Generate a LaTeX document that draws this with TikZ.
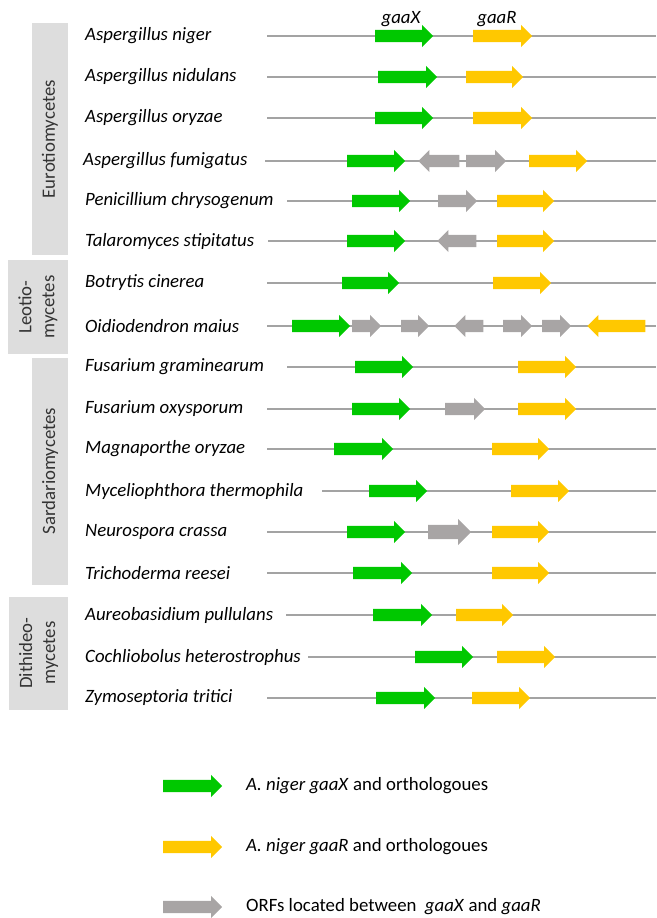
\documentclass[tikz,border=0pt]{standalone}
\usepackage{fontspec}
\setmainfont{Carlito}
\usetikzlibrary{shapes.arrows}

\definecolor{gaagreen}{HTML}{00C800}
\definecolor{gaayellow}{HTML}{FFC800}
\definecolor{orfgrey}{HTML}{A8A5A5}
\definecolor{linegrey}{HTML}{A3A3A3}
\definecolor{classgrey}{HTML}{DDDDDD}

% gene arrow: style, name, left x, right x, row y
\newcommand{\gene}[5]{\node[#1, minimum height={#4-#3}] (#2) at (#3,#5) {};}

\begin{document}
\begin{tikzpicture}[
    x=1pt,
    y=-1pt,
    every node/.style={font=\fontsize{18.8}{23}\selectfont},
    genome/.style={draw=linegrey, line width=1.4pt},
    arrowgene/.style={single arrow, draw=none, inner xsep=0pt, inner ysep=6pt, anchor=tail,
        minimum width=22pt, single arrow head extend=5pt, single arrow tip angle=90},
    gx/.style={arrowgene, fill=gaagreen},
    gr/.style={arrowgene, fill=gaayellow},
    orf/.style={arrowgene, fill=orfgrey},
    back/.style={shape border rotate=180, anchor=tip},
    species/.style={anchor=west, inner sep=0pt, font=\fontsize{18.8}{23}\selectfont\itshape},
    classbox/.style={fill=classgrey},
    classname/.style={rotate=90, align=center, text=black!80}
]
    \useasboundingbox (0,0) rectangle (656,918);

    % class boxes
    \fill[classbox] (32,23) rectangle (68,255);
    \fill[classbox] (8,260) rectangle (68,354);
    \fill[classbox] (32,358) rectangle (68,585);
    \fill[classbox] (9,597) rectangle (68,710);
    \node[classname] (euro) at (50,139) {Eurotiomycetes};
    \node[classname] (leot) at (38,307) {Leotio-\\mycetes};
    \node[classname] (sard) at (50,471) {Sardariomycetes};
    \node[classname] (dith) at (38.5,653) {Dithideo-\\mycetes};

    % genome lines
    \foreach \y/\s in {36/267, 77/267, 118/267, 161/265, 201/287, 241/268, 283/267, 326/267,
        367/287, 409/267, 449/267, 491/322, 532/267, 573/267, 615/286, 657/308, 698/267}
        \draw[genome] (\s,\y) -- (656,\y);

    % species
    \node[species] (sp1) at (85,36) {Aspergillus niger};
    \node[species] (sp2) at (85,77) {Aspergillus nidulans};
    \node[species] (sp3) at (85,118) {Aspergillus oryzae};
    \node[species] (sp4) at (83,161) {Aspergillus fumigatus};
    \node[species] (sp5) at (85,201) {Penicillium chrysogenum};
    \node[species] (sp6) at (85,241) {Talaromyces stipitatus};
    \node[species] (sp7) at (85,283) {Botrytis cinerea};
    \node[species] (sp8) at (85,326) {Oidiodendron maius};
    \node[species] (sp9) at (85,367) {Fusarium graminearum};
    \node[species] (sp10) at (85,409) {Fusarium oxysporum};
    \node[species] (sp11) at (85,449) {Magnaporthe oryzae};
    \node[species] (sp12) at (85,491) {Myceliophthora thermophila};
    \node[species] (sp13) at (85,532) {Neurospora crassa};
    \node[species] (sp14) at (85,573) {Trichoderma reesei};
    \node[species] (sp15) at (85,615) {Aureobasidium pullulans};
    \node[species] (sp16) at (85,657) {Cochliobolus heterostrophus};
    \node[species] (sp17) at (85,698) {Zymoseptoria tritici};

    % genes
    \gene{gx}{x1}{375}{433}{36}
    \gene{gr}{r1}{473}{532}{36}
    \node[font=\fontsize{18.8}{23}\selectfont\itshape] (lx) at (401,19) {gaaX};
    \node[font=\fontsize{18.8}{23}\selectfont\itshape] (lr) at (497,19) {gaaR};

    \gene{gx}{x2}{378}{437}{77}
    \gene{gr}{r2}{466}{523}{77}

    \gene{gx}{x3}{375}{433}{118}
    \gene{gr}{r3}{473}{532}{118}

    \gene{gx}{x4}{347}{405}{161}
    \gene{orf,back}{o4a}{418}{459}{161}
    \gene{orf}{o4b}{466}{506}{161}
    \gene{gr}{r4}{529}{587}{161}

    \gene{gx}{x5}{352}{410}{201}
    \gene{orf}{o5}{438}{477}{201}
    \gene{gr}{r5}{497}{554}{201}

    \gene{gx}{x6}{347}{405}{241}
    \gene{orf,back}{o6}{437}{476}{241}
    \gene{gr}{r6}{497}{554}{241}

    \gene{gx}{x7}{342}{399}{283}
    \gene{gr}{r7}{493}{551}{283}

    \gene{gx}{x8}{292}{350}{326}
    \gene{orf}{o8a}{352}{381}{326}
    \gene{orf}{o8b}{401}{429}{326}
    \gene{orf,back}{o8c}{454}{483}{326}
    \gene{orf}{o8d}{503}{532}{326}
    \gene{orf}{o8e}{542}{571}{326}
    \gene{gr,back}{r8}{587}{645}{326}

    \gene{gx}{x9}{355}{413}{367}
    \gene{gr}{r9}{518}{576}{367}

    \gene{gx}{x10}{352}{410}{409}
    \gene{orf}{o10}{445}{485}{409}
    \gene{gr}{r10}{518}{576}{409}

    \gene{gx}{x11}{334}{393}{449}
    \gene{gr}{r11}{492}{549}{449}

    \gene{gx}{x12}{369}{427}{491}
    \gene{gr}{r12}{511}{569}{491}

    \gene{gx}{x13}{347}{405}{532}
    \gene{orf,inner ysep=7pt,minimum width=26pt,single arrow head extend=6pt}{o13}{428}{471}{532}
    \gene{gr}{r13}{492}{549}{532}

    \gene{gx}{x14}{353}{412}{573}
    \gene{gr}{r14}{492}{549}{573}

    \gene{gx}{x15}{373}{432}{615}
    \gene{gr}{r15}{456}{513}{615}

    \gene{gx}{x16}{415}{473}{657}
    \gene{gr}{r16}{497}{555}{657}

    \gene{gx}{x17}{376}{435}{698}
    \gene{gr}{r17}{472}{530}{698}

    % legend
    \gene{gx}{kx}{163}{222}{786}
    \gene{gr}{kr}{163}{222}{847}
    \gene{orf}{ko}{163}{222}{907}
    \node[anchor=west, inner sep=0pt] (tx) at (246,786) {\textit{A. niger gaaX} and orthologoues};
    \node[anchor=west, inner sep=0pt] (tr) at (246,847) {\textit{A. niger gaaR} and orthologoues};
    \node[anchor=west, inner sep=0pt] (to) at (246,907) {ORFs located between \ \textit{gaaX} and \textit{gaaR}};
\end{tikzpicture}
\end{document}
